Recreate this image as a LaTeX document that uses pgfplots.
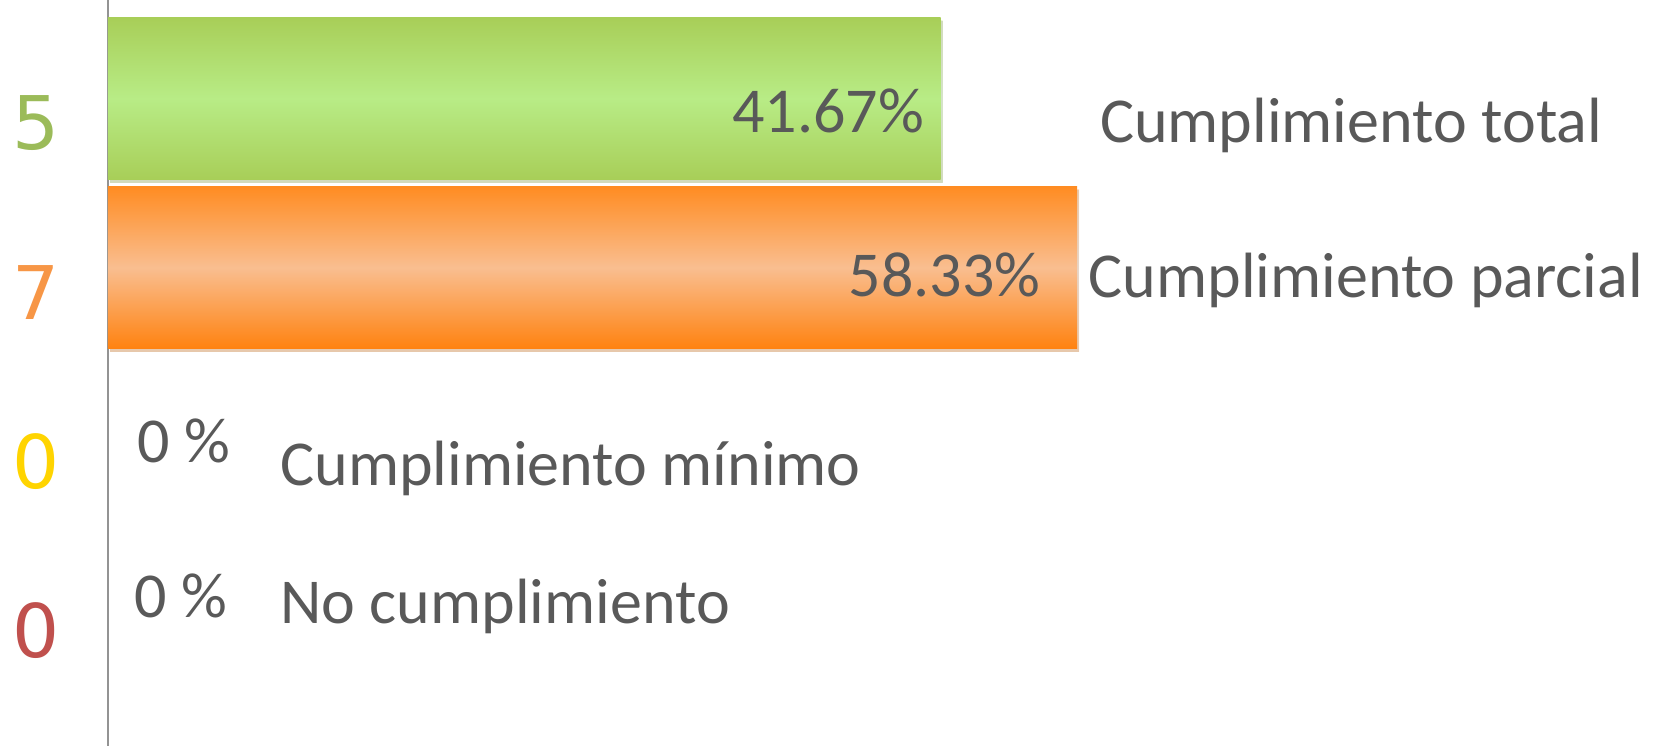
\documentclass[border=0pt]{standalone}
\usepackage{pgfplots}
\pgfplotsset{compat=1.18}
\usepackage{fontspec}
\setmainfont{Carlito}
\newfontfamily\dejavu{DejaVu Sans}
\usetikzlibrary{shadows}
\definecolor{txt}{RGB}{89,89,89}
\definecolor{cg}{RGB}{155,187,89}
\definecolor{co}{RGB}{247,150,70}
\definecolor{cy}{RGB}{255,212,0}
\definecolor{cr}{RGB}{192,80,77}
\definecolor{gtop}{RGB}{168,206,88}
\definecolor{gmid}{RGB}{184,236,134}
\definecolor{otop}{RGB}{255,140,34}
\definecolor{omid}{RGB}{249,190,144}
\definecolor{obot}{RGB}{255,130,16}
\begin{document}
\begin{tikzpicture}
\begin{axis}[
  at={(0,0)}, anchor=south west,
  scale only axis, width=775.5pt, height=373pt,
  xmin=0, xmax=189.4, ymin=-0.583, ymax=3.831,
  y dir=reverse,
  axis x line=none, axis y line=left,
  axis line style={-, draw=gray!85, line width=1pt},
  xtick=\empty,
  ytick={0,1,2,3},
  yticklabels={{\textcolor{cg}{5}},{\textcolor{co}{7}},{\textcolor{cy}{0}},{\textcolor{cr}{0}}},
  yticklabel style={font=\dejavu\fontsize{37}{37}\selectfont, anchor=center, xshift=-36pt, yshift=-12.5pt},
  major tick length=0pt,
  clip=false,
  xbar, bar width=81pt, bar shift=0pt,
  point meta=explicit symbolic,
  nodes near coords,
  every node near coord/.append style={anchor=base east, inner sep=0pt, text=txt, font=\fontsize{32}{32}\selectfont},
]
\addplot[xbar, bar shift=0pt, draw=none, x filter/.expression={x+60},
  top color=gtop, bottom color=gtop, middle color=gmid,
  drop shadow={shadow xshift=1pt, shadow yshift=-1.5pt, opacity=0.25},
  every node near coord/.append style={xshift=-8pt, yshift=-16.75pt}]
  coordinates {(41.67,0) [41.67\%]};
\addplot[xbar, bar shift=0pt, draw=none, x filter/.expression={x+60},
  top color=otop, bottom color=obot, middle color=omid,
  drop shadow={shadow xshift=1pt, shadow yshift=-1.5pt, opacity=0.25},
  every node near coord/.append style={xshift=-18pt, yshift=-14.25pt}]
  coordinates {(58.33,1) [58.33\%]};
\begin{scope}[every node/.style={anchor=base west, inner sep=0pt, text=txt, font=\fontsize{32}{32}\selectfont}]
\node at (axis cs:121.1,0.263) {Cumplimiento total};
\node at (axis cs:119.7,1.175) {Cumplimiento parcial};
\node at (axis cs:21.0,2.287) {Cumplimiento mínimo};
\node at (axis cs:21.0,3.109) {No cumplimiento};
\node at (axis cs:3.54,2.151) {0 \%};
\node at (axis cs:3.17,3.068) {0 \%};
\end{scope}
\end{axis}
\pgfresetboundingbox
\useasboundingbox (-54pt,0) rectangle (775.5pt,373pt);
\end{tikzpicture}
\end{document}
